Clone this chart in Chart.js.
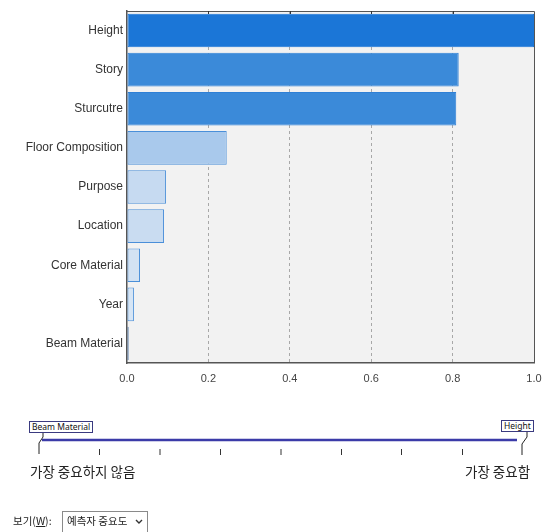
<!DOCTYPE html>
<html>
<head>
<meta charset="utf-8">
<script src="https://cdn.jsdelivr.net/npm/chart.js@4"></script>
<style>
  html, body { margin:0; padding:0; background:#fff; }
  #wrap { position:relative; width:545px; height:532px; overflow:hidden; font-family:"Liberation Sans", Arial, sans-serif; }
  #cv { position:absolute; left:0; top:0; }
  .kr { font-family:"Noto Sans CJK KR", sans-serif; position:absolute; color:#222; white-space:nowrap; }
  .tag { position:absolute; border:1px solid #3a3a80; background:#fff; font-family:"Noto Sans", sans-serif; font-size:8.5px; line-height:10px; padding:0 2px; color:#111; white-space:nowrap; }
  #sel { position:absolute; left:62px; top:511px; width:86px; height:24px; border:1px solid #8a8a8a; box-sizing:border-box; background:#fff; }
</style>
</head>
<body>
<div id="wrap">
  <canvas id="cv" width="545" height="400"></canvas>
  <div id="sel"></div>

  <svg width="545" height="532" style="position:absolute;left:0;top:0;pointer-events:none">
    <line x1="42" y1="440" x2="517" y2="440" stroke="#3b3ba8" stroke-width="2.5"/>
    <polyline points="43,433 43,437 39,443 39,454" fill="none" stroke="#222" stroke-width="1"/>
    <polyline points="527,431 527,437 522,444 522,455" fill="none" stroke="#222" stroke-width="1"/>
    <g stroke="#333" stroke-width="1">
      <line x1="99.5" y1="449" x2="99.5" y2="455"/>
      <line x1="160" y1="449" x2="160" y2="455"/>
      <line x1="220.5" y1="449" x2="220.5" y2="455"/>
      <line x1="281" y1="449" x2="281" y2="455"/>
      <line x1="341.5" y1="449" x2="341.5" y2="455"/>
      <line x1="401.5" y1="449" x2="401.5" y2="455"/>
      <line x1="462.5" y1="449" x2="462.5" y2="455"/>
    </g>
    <polyline points="136,520 139,523 142,520" fill="none" stroke="#333" stroke-width="1.4"/>
  </svg>

  <div class="tag" style="left:29px;top:421px;">Beam Material</div>
  <div class="tag" style="left:501px;top:420px;">Height</div>

  <div class="kr" style="left:30px;top:461px;font-size:13.5px;">가장 중요하지 않음</div>
  <div class="kr" style="left:465px;top:461px;font-size:13.5px;">가장 중요함</div>

  <div class="kr" style="left:13px;top:513px;font-size:10.5px;">보기(<u>W</u>):</div>
  <div class="kr" style="left:67px;top:513px;font-size:10.5px;">예측자 중요도</div>
</div>

<script>
const categories = ["Height", "Story", "Sturcutre", "Floor Composition", "Purpose", "Location", "Core Material", "Year", "Beam Material"];
const importance = [1.0, 0.815, 0.809, 0.245, 0.096, 0.091, 0.032, 0.017, 0.004];
const xTickValues = [0, 0.2, 0.4, 0.6, 0.8, 1.0];
const barColors = ["#1b76d7", "#3b8ad9", "#3b8ad9", "#a9c9ec", "#c6daf1", "#c9dcf1", "#d2e2f3", "#d6e5f5", "#dbe8f6"];
const barBorders = ["#1b76d7", "#2f80d6", "#2f80d6", "#4a8fd9", "#4a8fd9", "#4a8fd9", "#4a8fd9", "#4a8fd9", "#2d5d99"];

const frame = {
  id: 'frame',
  beforeDraw(chart) {
    const a = chart.chartArea, c = chart.ctx;
    c.save();
    c.fillStyle = '#f2f2f2';
    c.fillRect(a.left, a.top, a.right - a.left, a.bottom - a.top);
    c.restore();
  },
  afterDatasetsDraw(chart) {
    const a = chart.chartArea, c = chart.ctx, xs = chart.scales.x;
    c.save();
    c.strokeStyle = '#555';
    c.lineWidth = 1;
    c.beginPath();
    c.moveTo(a.left, a.top + 0.5); c.lineTo(a.right + 0.5, a.top + 0.5);
    c.lineTo(a.right + 0.5, a.bottom);
    c.stroke();
    c.strokeStyle = '#333';
    c.beginPath();
    xTickValues.slice(1, -1).forEach(v => {
      const px = Math.round(xs.getPixelForValue(v)) + 0.5;
      c.moveTo(px, a.top); c.lineTo(px, a.top + 3);
    });
    c.stroke();
    c.restore();
  }
};

new Chart(document.getElementById('cv'), {
  type: 'bar',
  data: {
    labels: categories,
    datasets: [{
      data: importance,
      backgroundColor: barColors,
      borderColor: barBorders,
      borderWidth: 1,
      borderSkipped: false,
      categoryPercentage: 1.0,
      barPercentage: 0.86
    }]
  },
  options: {
    indexAxis: 'y',
    responsive: false,
    animation: false,
    devicePixelRatio: 1,
    layout: { padding: { top: 11, right: 11, left: 0, bottom: 0 } },
    plugins: { legend: { display: false }, tooltip: { enabled: false } },
    scales: {
      x: {
        min: 0, max: 1,
        afterFit(s) { s.height = 37; s.paddingLeft = 0; s.paddingRight = 0; },
        afterBuildTicks(s) { s.ticks = xTickValues.map(v => ({ value: v })); },
        ticks: {
          padding: 9,
          color: '#444',
          font: { family: 'Liberation Sans', size: 11 },
          callback: v => Number(v).toFixed(1)
        },
        grid: {
          drawTicks: false,
          color: ctx => (ctx.tick && (ctx.tick.value === 0 || ctx.tick.value === 1)) ? 'rgba(0,0,0,0)' : '#a8a8a8',
          lineWidth: 1
        },
        border: { display: true, color: '#555', width: 1.5, dash: [3, 3] }
      },
      y: {
        afterFit(s) { s.width = 127; s.paddingTop = 0; s.paddingBottom = 0; },
        ticks: {
          padding: 4,
          color: '#333',
          font: { family: 'Liberation Sans', size: 12 }
        },
        grid: { display: false, drawTicks: false },
        border: { display: true, color: '#555', width: 1.5 }
      }
    }
  },
  plugins: [frame]
});
</script>
</body>
</html>
